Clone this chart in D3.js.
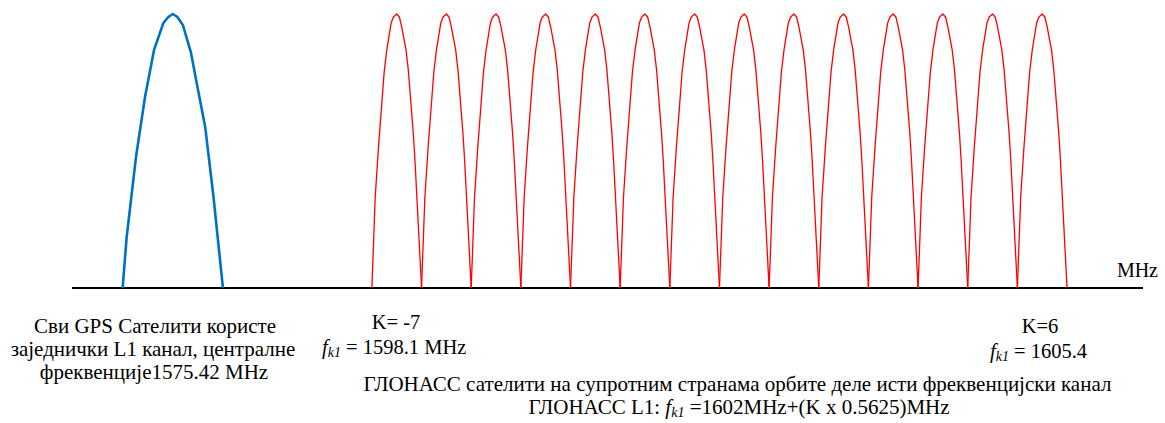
<!DOCTYPE html>
<html><head><meta charset="utf-8">
<script src="https://cdn.jsdelivr.net/npm/d3@7"></script>
<style>
html,body{margin:0;padding:0;background:#fff;}
</style></head>
<body><svg id="c" width="1165" height="423"></svg>
<script>
// channel axis (in GLONASS channel-number units K)
const axisDomain = [-13.54, 8.03];
// GLONASS frequency channels
const gloK = [-7, -6, -5, -4, -3, -2, -1, 0, 1, 2, 3, 4, 5, 6];
const gloHalfWidth = 0.5;
// GLONASS lobe shape (normalized position across the lobe, relative height)
const lobeT = [0, 0.067, 0.133, 0.247, 0.30, 0.387, 0.433, 0.5, 0.553, 0.60, 0.687, 0.733, 0.833, 0.867, 1];
const lobeH = [0, 0.332, 0.515, 0.788, 0.869, 0.967, 0.989, 1, 0.989, 0.953, 0.869, 0.796, 0.566, 0.467, 0];
// GPS L1 lobe
const gpsCenter = -11.51;
const gpsHalfWidth = 1.01;
const gpsT = [0, 0.04, 0.133, 0.223, 0.313, 0.406, 0.456, 0.5, 0.546, 0.60, 0.68, 0.746, 0.823, 0.906, 1];
const gpsH = [0, 0.186, 0.478, 0.697, 0.869, 0.967, 0.989, 1, 0.989, 0.96, 0.861, 0.734, 0.588, 0.332, 0];

const FONT = '"Liberation Serif"';
const svg = d3.select("#c");
const x = d3.scaleLinear().domain(axisDomain).range([72, 1143]);
const y = d3.scaleLinear().domain([0, 1]).range([288, 14]);
const line = d3.line().x(d => x(d[0])).y(d => y(d[1]));

// axis line
svg.append("line").attr("x1", x(axisDomain[0])).attr("x2", x(axisDomain[1]))
  .attr("y1", y(0)).attr("y2", y(0)).attr("stroke", "#000").attr("stroke-width", 2);

// GLONASS lobes
svg.append("g").selectAll("path").data(gloK).join("path")
  .attr("d", k => line(lobeT.map((t, i) => [k - gloHalfWidth + 2 * gloHalfWidth * t, lobeH[i]])))
  .attr("fill", "none").attr("stroke", "#ff0000").attr("stroke-width", 1.3).attr("stroke-linejoin", "round");

// GPS lobe
svg.append("path")
  .attr("d", line(gpsT.map((t, i) => [gpsCenter - gpsHalfWidth + 2 * gpsHalfWidth * t, gpsH[i]])))
  .attr("fill", "none").attr("stroke", "#0070c0").attr("stroke-width", 2.6).attr("stroke-linejoin", "round");

const fs = 21;
function base(xp, yp, anchor, size) {
  return svg.append("text").attr("x", xp).attr("y", yp)
    .style("font-family", FONT).style("font-size", (size || fs) + "px").attr("fill", "#000")
    .attr("text-anchor", anchor || "middle");
}
function txt(xp, yp, s, anchor, size) { return base(xp, yp, anchor, size).text(s); }
txt(1158, 277, "MHz", "end", 20);
txt(155, 333, "Сви GPS Сателити користе");
txt(153, 356, "заједнички L1 канал, централне");
txt(154, 379, "фреквенције1575.42 MHz");

function fk(t) {
  t.append("tspan").style("font-style", "italic").text("f");
  t.append("tspan").style("font-style", "italic").style("font-size", "14px").attr("dy", 3).text("k1");
  return t;
}
txt(396, 329, "K= -7", "middle", 20.5);
{ const t = base(322, 354, "start", 20.5); fk(t); t.append("tspan").attr("dy", -3).text(" = 1598.1 MHz"); }
txt(1040, 333, "K=6", "middle", 20.5);
{ const t = base(990, 358, "start", 20.5); fk(t); t.append("tspan").attr("dy", -3).text(" = 1605.4"); }
txt(737.5, 391, "ГЛОНАСС сателити на супротним странама орбите деле исти фреквенцијски канал");
{
  const t = base(739, 414, "middle");
  t.append("tspan").text("ГЛОНАСС L1: ");
  fk(t); t.append("tspan").attr("dy", -3).text(" =1602MHz+(K x 0.5625)MHz");
}
</script></body></html>
